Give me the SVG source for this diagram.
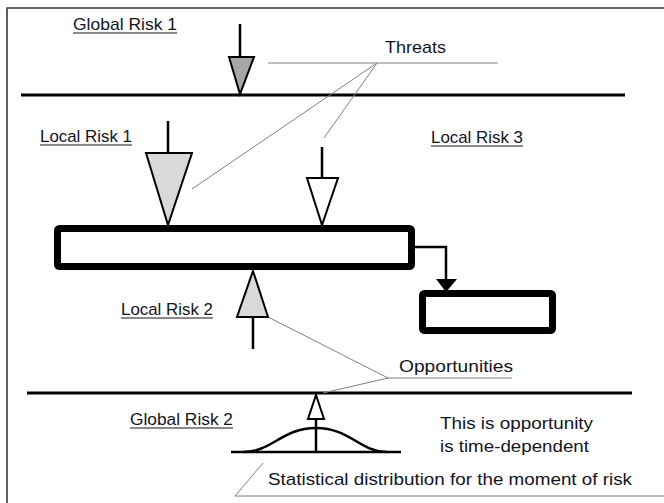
<svg xmlns="http://www.w3.org/2000/svg" width="664" height="503" viewBox="0 0 664 503">
  <style>
    .lbl { font-family: "Liberation Sans", Arial, sans-serif; font-size: 17px; fill: #14141e; }
    .ul { stroke: #14141e; stroke-width: 1.2; }
    .lead { stroke: #808080; stroke-width: 1; fill: none; }
    .bar { stroke: #000; stroke-width: 3; }
    .stem { stroke: #000; stroke-width: 2.5; }
    .tri { stroke: #000; stroke-width: 2; stroke-linejoin: miter; }
    .box { fill: #fff; stroke: #000; stroke-width: 7; }
  </style>
  <rect width="664" height="503" fill="#fff"/>

  <!-- frame -->
  <path d="M7,503 V8 H664" fill="none" stroke="#3a3a3a" stroke-width="1.6"/>

  <!-- environment boundaries -->
  <g id="boundaries">
    <line class="bar" x1="21" y1="95" x2="625" y2="95"/>
    <line class="bar" x1="27" y1="393" x2="632" y2="393"/>
  </g>

  <!-- callout leaders -->
  <g id="leaders">
    <line class="lead" x1="268" y1="63" x2="498" y2="63"/>
    <line class="lead" x1="377" y1="63" x2="192" y2="189"/>
    <line class="lead" x1="377" y1="63" x2="324" y2="138"/>
    <line class="lead" x1="388" y1="378" x2="512" y2="378"/>
    <line class="lead" x1="268" y1="317" x2="388" y2="378"/>
    <line class="lead" x1="388" y1="378" x2="323" y2="393"/>
    <line class="lead" x1="235" y1="496" x2="664" y2="496"/>
    <line class="lead" x1="235" y1="496" x2="263" y2="463"/>
  </g>

  <!-- risk arrows -->
  <g id="global-risk-1">
    <line class="stem" x1="240" y1="24" x2="240" y2="57"/>
    <polygon class="tri" points="229,57 254,57 240,94" fill="#a6a6a6"/>
    <text class="lbl" x="73" y="30" textLength="104" lengthAdjust="spacingAndGlyphs">Global Risk 1</text>
    <line class="ul" x1="73" y1="33" x2="177" y2="33"/>
  </g>

  <g id="local-risk-1">
    <line class="stem" x1="168" y1="121" x2="168" y2="153"/>
    <polygon class="tri" points="146,153 192,153 168,225" fill="#d9d9d9"/>
    <text class="lbl" x="40" y="142" textLength="92" lengthAdjust="spacingAndGlyphs">Local Risk 1</text>
    <line class="ul" x1="40" y1="145" x2="132" y2="145"/>
  </g>

  <g id="local-risk-mid">
    <line class="stem" x1="322" y1="147" x2="322" y2="178"/>
    <polygon class="tri" points="307,178 338,178 322,225" fill="#fff"/>
  </g>

  <g id="local-risk-3">
    <text class="lbl" x="431" y="143" textLength="92" lengthAdjust="spacingAndGlyphs">Local Risk 3</text>
    <line class="ul" x1="431" y1="146" x2="523" y2="146"/>
  </g>

  <g id="local-risk-2">
    <polygon class="tri" points="253,271 268,317 237,317" fill="#d9d9d9"/>
    <line class="stem" x1="253" y1="317" x2="253" y2="349"/>
    <text class="lbl" x="121" y="315" textLength="92" lengthAdjust="spacingAndGlyphs">Local Risk 2</text>
    <line class="ul" x1="121" y1="318" x2="213" y2="318"/>
  </g>

  <g id="global-risk-2">
    <polygon class="tri" points="316,395 324,419 308,419" fill="#fff"/>
    <line class="stem" x1="316" y1="419" x2="316" y2="452"/>
    <line class="stem" x1="231" y1="452" x2="401" y2="452"/>
    <path d="M243,452 C272,452 282,428 316,428 C350,428 360,452 387,452" fill="none" stroke="#000" stroke-width="2.5"/>
    <text class="lbl" x="130" y="425" textLength="103" lengthAdjust="spacingAndGlyphs">Global Risk 2</text>
    <line class="ul" x1="130" y1="428" x2="233" y2="428"/>
  </g>

  <!-- process boxes -->
  <g id="main-process">
    <rect class="box" x="57.5" y="228.5" width="354" height="38" rx="2"/>
  </g>
  <g id="sub-process">
    <rect class="box" x="422.5" y="293.5" width="130" height="37" rx="2"/>
  </g>

  <g id="connectors">
    <path d="M415,247 H446 V280" fill="none" stroke="#000" stroke-width="2.5"/>
    <polygon points="436,279 457,279 446,292" fill="#000"/>
  </g>

  <!-- annotations -->
  <g id="notes">
    <text class="lbl" x="385" y="53" textLength="61" lengthAdjust="spacingAndGlyphs">Threats</text>
    <text class="lbl" x="399" y="372" textLength="114" lengthAdjust="spacingAndGlyphs">Opportunities</text>
    <text class="lbl" x="440" y="429" textLength="153" lengthAdjust="spacingAndGlyphs">This is opportunity</text>
    <text class="lbl" x="440" y="452" textLength="149" lengthAdjust="spacingAndGlyphs">is time-dependent</text>
    <text class="lbl" x="268" y="485" textLength="364" lengthAdjust="spacingAndGlyphs">Statistical distribution for the moment of risk</text>
  </g>
</svg>
